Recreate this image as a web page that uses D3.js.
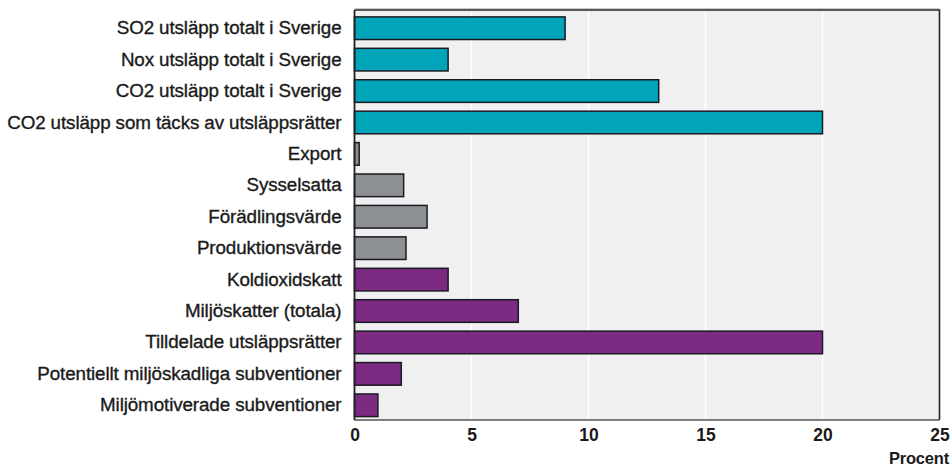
<!DOCTYPE html>
<html><head><meta charset="utf-8">
<script src="https://cdn.jsdelivr.net/npm/d3@7"></script>
<style>body{margin:0;background:#fff}svg{display:block}</style>
</head><body>
<script>
const categories = ["SO2 utsläpp totalt i Sverige","Nox utsläpp totalt i Sverige","CO2 utsläpp totalt i Sverige","CO2 utsläpp som täcks av utsläppsrätter","Export","Sysselsatta","Förädlingsvärde","Produktionsvärde","Koldioxidskatt","Miljöskatter (totala)","Tilldelade utsläppsrätter","Potentiellt miljöskadliga subventioner","Miljömotiverade subventioner"];
const values = [9, 4, 13, 20, 0.2, 2.1, 3.1, 2.2, 4, 7, 20, 2, 1];
const groups = ["miljo","miljo","miljo","miljo","ekonomi","ekonomi","ekonomi","ekonomi","styr","styr","styr","styr","styr"];
const xTicks = [0, 5, 10, 15, 20, 25];
const xLabel = "Procent";

const colors = {miljo:"#00a5ba", ekonomi:"#8e9193", styr:"#7d2a82"};
const W = 952, H = 468;
const m = {left:354.5, right:12.5, top:10, bottom:48};
const svg = d3.select("body").append("svg").attr("width",W).attr("height",H);
const x = d3.scaleLinear().domain([0,25]).range([m.left, W-m.right]);
const y = d3.scaleBand().domain(categories).range([m.top+2.5, H-m.bottom+1]).paddingInner(0.28).paddingOuter(0.14);

svg.append("rect").attr("x",m.left).attr("y",m.top).attr("width",W-m.right-m.left).attr("height",H-m.bottom-m.top).attr("fill","#f0f0f0");
// gridlines
svg.append("g").selectAll("line").data(xTicks.slice(1,-1)).join("line")
  .attr("x1",d=>x(d)).attr("x2",d=>x(d)).attr("y1",m.top).attr("y2",H-m.bottom)
  .attr("stroke","#ffffff").attr("stroke-width",1.5);
// bars
svg.append("g").selectAll("rect").data(categories).join("rect")
  .attr("x",x(0)).attr("y",d=>y(d))
  .attr("width",(d,i)=>x(values[i])-x(0)).attr("height",y.bandwidth())
  .attr("fill",(d,i)=>colors[groups[i]]).attr("stroke","#1a1a24").attr("stroke-width",1.5);
// frame
svg.append("line").attr("x1",m.left).attr("x2",W-m.right).attr("y1",m.top-1.5).attr("y2",m.top-1.5).attr("stroke","#c8c8c8").attr("stroke-width",1);
svg.append("path").attr("d",`M${m.left},${m.top}H${W-m.right}V${H-m.bottom}`).attr("fill","none").attr("stroke","#222").attr("stroke-width",1.6);
svg.append("line").attr("x1",m.left).attr("x2",W-m.right).attr("y1",H-m.bottom).attr("y2",H-m.bottom).attr("stroke","#555").attr("stroke-width",1.6);
svg.append("line").attr("x1",m.left).attr("x2",m.left).attr("y1",m.top).attr("y2",H-m.bottom).attr("stroke","#222").attr("stroke-width",1.8);

// y labels
const yAxis = d3.axisLeft(y).tickSize(0).tickPadding(13);
const gy = svg.append("g").attr("transform",`translate(${m.left},0)`).call(yAxis);
gy.select(".domain").remove();
gy.selectAll("text").attr("font-family","Liberation Sans, Arial, sans-serif").attr("font-size",18.8)
  .attr("fill","#1a1a1a").attr("stroke","#1a1a1a").attr("stroke-width",0.35).attr("letter-spacing","-0.1px");

// x axis
const xAxis = d3.axisBottom(x).tickValues(xTicks).tickSize(0).tickPadding(9);
const gx = svg.append("g").attr("transform",`translate(0,${H-m.bottom})`).call(xAxis);
gx.select(".domain").remove();
gx.selectAll("text").attr("font-family","Liberation Sans, Arial, sans-serif").attr("font-size",17.5).attr("font-weight","bold").attr("fill","#1a1a1a");

svg.append("text").attr("x",W-3).attr("y",H-4).attr("text-anchor","end")
  .attr("font-family","Liberation Sans, Arial, sans-serif").attr("font-size",16.5).attr("font-weight","bold").attr("fill","#1a1a1a").attr("letter-spacing","-0.2px").text(xLabel);
</script>
</body></html>
